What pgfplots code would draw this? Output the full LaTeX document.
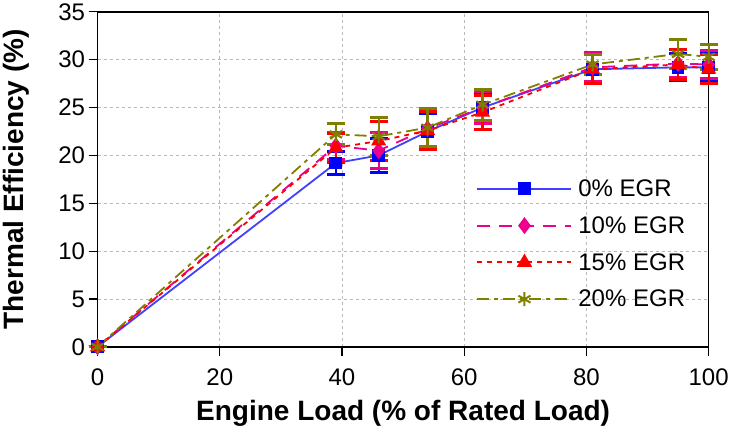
\documentclass[border=0pt]{standalone}
\usepackage{fontspec}
\setmainfont{Liberation Sans}
\usepackage{pgfplots}
\pgfplotsset{compat=1.18}
\definecolor{egrolive}{RGB}{128,128,0}
\begin{document}
\begin{tikzpicture}
\begin{axis}[
  width=611pt, height=335pt, scale only axis,
  xmin=0, xmax=100, ymin=0, ymax=35,
  xtick={0,20,40,60,80,100}, ytick={0,5,...,35},
  /pgf/number format/assume math mode=true,
  tick label style={font=\fontsize{24}{28}\selectfont},
  xticklabel style={yshift=-9pt},
  yticklabel style={xshift=0pt},
  label style={font=\bfseries\fontsize{28}{32}\selectfont},
  xlabel={Engine Load (\% of Rated Load)},
  ylabel={Thermal Efficiency (\%)},
  xlabel style={yshift=-8pt},
  ylabel style={yshift=22pt},
  axis line style={black, line width=1.5pt},
  tick align=outside, xtick pos=left, ytick pos=left,
  major tick length=9pt, tick style={black, line width=1.2pt},
  grid=major, grid style={dashed, gray!55, line width=0.9pt},
  clip=false,
  legend style={at={(axis cs:61.5,17.9)}, anchor=north west, draw=none, fill=none,
    font=\fontsize{24}{28}\selectfont, row sep=14.5pt,
    /tikz/every odd column/.append style={column sep=4pt}},
  legend cell align=left,
  legend image code/.code={\draw[mark repeat=2,mark phase=2] plot coordinates {(0pt,0pt)(47pt,0pt)(94pt,0pt)};},
  every axis plot/.append style={line width=1.8pt},
]
\addplot+[blue!75, mark=square*, mark size=5.5pt, mark options={solid, draw=blue, fill=blue},
  error bars/.cd, y dir=both, y explicit, error bar style={blue, line width=2.2pt},
  error mark=-, error mark options={rotate=90, blue, mark size=9pt, line width=3pt}]
  coordinates {(0,0) +- (0,0) (39,19.2) +- (0,1.2) (46,20.0) +- (0,1.8) (54,22.5) +- (0,1.9)
    (63,25.0) +- (0,1.6) (81,29.0) +- (0,1.5) (95,29.2) +- (0,1.4) (100,29.2) +- (0,1.5)};
\addlegendentry{0\% EGR}
\addplot+[magenta, dash pattern=on 13pt off 9pt, mark=diamond*, mark size=7pt, mark options={solid, fill=magenta},
  error bars/.cd, y dir=both, y explicit, error bar style={magenta, solid, line width=2.2pt},
  error mark=-, error mark options={rotate=90, magenta, solid, mark size=9pt, line width=3pt}]
  coordinates {(0,0) +- (0,0) (39,21.0) +- (0,1.4) (46,20.5) +- (0,1.9) (54,22.8) +- (0,1.9)
    (63,25.0) +- (0,1.7) (81,29.2) +- (0,1.5) (95,29.6) +- (0,1.5) (100,29.5) +- (0,1.5)};
\addlegendentry{10\% EGR}
\addplot+[red, dash pattern=on 5pt off 5pt, mark=triangle*, mark size=7pt, mark options={solid, fill=red},
  error bars/.cd, y dir=both, y explicit, error bar style={red, solid, line width=2.2pt},
  error mark=-, error mark options={rotate=90, red, solid, mark size=9pt, line width=3pt}]
  coordinates {(0,0) +- (0,0) (39,20.8) +- (0,1.5) (46,21.5) +- (0,2.0) (54,22.6) +- (0,2.0)
    (63,24.5) +- (0,1.8) (81,29.0) +- (0,1.5) (95,29.5) +- (0,1.6) (100,29.0) +- (0,1.5)};
\addlegendentry{15\% EGR}
\addplot+[egrolive, dash pattern=on 12pt off 5pt on 4pt off 5pt, mark=asterisk, mark size=7pt, mark options={solid, line width=2pt},
  error bars/.cd, y dir=both, y explicit, error bar style={egrolive, solid, line width=2.2pt},
  error mark=-, error mark options={rotate=90, egrolive, solid, mark size=9pt, line width=3pt}]
  coordinates {(0,0) +- (0,0) (39,22.2) +- (0,1.1) (46,22.0) +- (0,2.0) (54,22.9) +- (0,2.0)
    (63,25.3) +- (0,1.6) (81,29.5) +- (0,1.0) (95,30.6) +- (0,1.5) (100,30.3) +- (0,1.3)};
\addlegendentry{20\% EGR}
\end{axis}
\end{tikzpicture}
\end{document}
